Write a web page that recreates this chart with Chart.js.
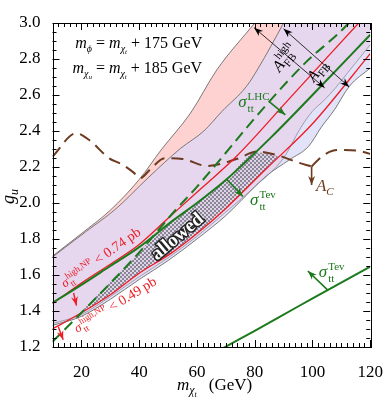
<!DOCTYPE html>
<html>
<head>
<meta charset="utf-8">
<script src="https://cdn.jsdelivr.net/npm/chart.js@4.4.0/dist/chart.umd.min.js"></script>
<style>
  html, body { margin: 0; padding: 0; background: #fff; }
  canvas { display: block; }
</style>
</head>
<body>
<canvas id="c" width="390" height="400"></canvas>
<script>
// axis ranges and tick labels
var xMin = 10, xMax = 120, yMin = 1.2, yMax = 3.0;
var xTickVals = [20, 40, 60, 80, 100, 120];
var yTickVals = [1.2, 1.4, 1.6, 1.8, 2.0, 2.2, 2.4, 2.6, 2.8, 3.0];

// A_FB^high band (pink), outer edge
var afbHighTopX = [10, 20, 30, 40, 47.6, 57.8, 66.9, 80, 90, 100];
var afbHighTopY = [1.705, 1.83, 1.96, 2.13, 2.295, 2.50, 2.74, 3.0, 3.2, 3.45];
// A_FB band upper edge (start of overlap, lavender)
var afbTopX = [10, 21.4, 31.9, 43.1, 54.3, 62.4, 68.6, 77.1, 81.2, 90, 100, 120];
var afbTopY = [1.70, 1.839, 1.967, 2.14, 2.303, 2.40, 2.508, 2.647, 2.748, 3.0, 3.3, 3.8];
// A_FB^high band lower edge (end of overlap)
var afbHighLowX = [10, 20, 30, 40, 50, 60, 70, 80, 90, 96, 100, 104, 108, 113, 120];
var afbHighLowY = [1.33, 1.38, 1.48, 1.59, 1.695, 1.815, 1.95, 2.09, 2.25, 2.42, 2.51, 2.57, 2.64, 2.74, 2.88];
// A_FB band lower edge (light blue)
var afbLowX = [10, 20, 30, 40, 50, 60, 70, 84, 92, 98.6, 103, 107.6, 112.7, 120];
var afbLowY = [1.32, 1.37, 1.465, 1.575, 1.68, 1.80, 1.93, 2.15, 2.24, 2.314, 2.42, 2.518, 2.647, 2.75];

// sigma_tt Tevatron bounds (green solid)
var tevUpX = [10, 20, 30, 40, 52, 60, 70.3, 86, 100, 120];
var tevUpY = [1.445, 1.545, 1.65, 1.755, 1.906, 2.0, 2.132, 2.37, 2.6, 2.935];
var tevLowX = [69, 80, 95, 105.4, 120];
var tevLowY = [1.193, 1.29, 1.425, 1.517, 1.647];
// sigma_tt LHC bound (green dashed)
var lhcX = [10, 20, 40, 52, 60, 84, 97.4, 112, 114];
var lhcY = [1.229, 1.39, 1.725, 1.95, 2.09, 2.545, 2.777, 2.99, 3.03];
// sigma_tt high NP bounds (red)
var np074X = [10, 20, 30, 40, 50, 60, 73.7, 92, 116, 120];
var np074Y = [1.44, 1.555, 1.66, 1.77, 1.915, 2.06, 2.26, 2.58, 3.0, 3.07];
var np049X = [10, 20, 30, 40, 51, 60, 70, 84, 100, 120];
var np049Y = [1.30, 1.39, 1.49, 1.61, 1.72, 1.83, 1.97, 2.19, 2.44, 2.83];
// A_C bound (brown dashed), split at the cusp
var acLeftX = [10, 18.2, 22.7, 29.5, 34, 38, 40.3, 44, 48.8, 55, 63.5, 73.7, 81, 88, 95, 99.7];
var acLeftY = [2.258, 2.388, 2.35, 2.25, 2.215, 2.17, 2.138, 2.19, 2.249, 2.245, 2.206, 2.244, 2.286, 2.265, 2.225, 2.203];
var acRightX = [99.7, 103, 107, 111, 116, 120];
var acRightY = [2.203, 2.255, 2.29, 2.295, 2.29, 2.273];
// upper edge of the allowed (hatched) region; lower edge is the 0.49 pb line
var allowedTopX = [19.5, 30, 40, 44.9, 52, 60, 70.3, 80.5, 84, 88];
var allowedTopY = [1.388, 1.565, 1.725, 1.815, 1.906, 2.0, 2.132, 2.28, 2.275, 2.26];

var F = '"Liberation Serif", "DejaVu Serif", serif';
var GREEN = '#1c7a1c', RED = '#ee1c24', BROWN = '#6b3a1f';

function pts(xs, ys) {
    return xs.map(function (x, i) { return { x: x, y: ys[i] }; });
}
function curve(xs, ys, opts) {
    return Object.assign({
        data: pts(xs, ys),
        pointRadius: 0,
        borderWidth: 0,
        borderColor: 'transparent',
        fill: false,
        cubicInterpolationMode: 'monotone',
        clip: 0
    }, opts);
}

// checkered pattern for the allowed region
var canvas = document.getElementById('c');
var pc = document.createElement('canvas');
pc.width = 4; pc.height = 4;
var pg = pc.getContext('2d');
pg.fillStyle = '#ddd5e3'; pg.fillRect(0, 0, 4, 4);
pg.fillStyle = '#8c8498'; pg.fillRect(0, 0, 2, 2); pg.fillRect(2, 2, 2, 2);
var hatch = canvas.getContext('2d').createPattern(pc, 'repeat');

// ---------- text helpers
function txt(ctx, s, x, y, font, color) {
    ctx.font = font;
    ctx.fillStyle = color;
    ctx.fillText(s, x, y);
    return x + ctx.measureText(s).width;
}
function sigma(ctx, x, y, sup, size, color) {
    var x1 = txt(ctx, 'σ', x, y, 'italic ' + size + 'px ' + F, color);
    var s2 = Math.round(size * 0.66);
    var xa = txt(ctx, sup, x1 + 1, y - size * 0.42, s2 + 'px ' + F, color);
    var xb = txt(ctx, 'tt', x1 + 1, y + size * 0.28, s2 + 'px ' + F, color);
    return Math.max(xa, xb);
}
function arrow(ctx, p1, p2, color, lw, head, both) {
    var a = Math.atan2(p2[1] - p1[1], p2[0] - p1[0]);
    ctx.save();
    ctx.strokeStyle = color; ctx.fillStyle = color; ctx.lineWidth = lw;
    ctx.beginPath(); ctx.moveTo(p1[0], p1[1]); ctx.lineTo(p2[0], p2[1]); ctx.stroke();
    function tip(p, ang) {
        var c = Math.cos(ang), s = Math.sin(ang), w = head * 0.38;
        ctx.beginPath();
        ctx.moveTo(p[0], p[1]);
        ctx.lineTo(p[0] - head * c + w * s, p[1] - head * s - w * c);
        ctx.lineTo(p[0] - head * 0.7 * c, p[1] - head * 0.7 * s);
        ctx.lineTo(p[0] - head * c - w * s, p[1] - head * s + w * c);
        ctx.closePath(); ctx.fill();
    }
    tip(p2, a);
    if (both) tip(p1, a + Math.PI);
    ctx.restore();
}
function rot(ctx, p, deg, fn) {
    ctx.save();
    ctx.translate(p[0], p[1]);
    ctx.rotate(deg * Math.PI / 180);
    fn();
    ctx.restore();
}

// ---------- frame with inward ticks on all sides
function drawFrame(chart) {
    var ctx = chart.ctx, a = chart.chartArea, sx = chart.scales.x, sy = chart.scales.y;
    ctx.save();
    ctx.strokeStyle = '#000';
    ctx.lineWidth = 1;
    ctx.beginPath();
    for (var v = xMin; v <= xMax + 0.001; v += 2) {
        var px = Math.round(sx.getPixelForValue(v)) + 0.5;
        var len = (Math.abs(v % 20) < 0.01) ? 7 : 4;
        ctx.moveTo(px, a.bottom); ctx.lineTo(px, a.bottom - len);
        ctx.moveTo(px, a.top); ctx.lineTo(px, a.top + len);
    }
    for (var k = 0; k <= 36; k++) {
        var yv = yMin + k * 0.05;
        var py = Math.round(sy.getPixelForValue(yv)) + 0.5;
        var ylen = (k % 4 === 0) ? 7 : 4;
        ctx.moveTo(a.left, py); ctx.lineTo(a.left + ylen, py);
        ctx.moveTo(a.right, py); ctx.lineTo(a.right - ylen, py);
    }
    ctx.stroke();
    ctx.strokeRect(Math.round(a.left) + 0.5, Math.round(a.top) + 0.5,
        Math.round(a.right - a.left), Math.round(a.bottom - a.top));
    ctx.restore();
}

var annotations = {
    id: 'annotations',
    afterDraw: function (chart) {
        var ctx = chart.ctx;
        var P = function (x, y) { return [chart.scales.x.getPixelForValue(x), chart.scales.y.getPixelForValue(y)]; };
        drawFrame(chart);

        // mass relations
        function massLine(label, sub2, num, p) {
            var segs = [
                ['m', 'italic 16px ' + F, 0],
                [label, 'italic 10px ' + F, 4],
                [sub2, 'italic 7px ' + F, 6],
                [' = ', '16px ' + F, 0],
                ['m', 'italic 16px ' + F, 0],
                ['χ', 'italic 10px ' + F, 4],
                ['t', 'italic 7px ' + F, 6],
                [' + ' + num + ' GeV', '16px ' + F, 0]
            ];
            var x = p[0];
            segs.forEach(function (s) { x = txt(ctx, s[0], x, p[1] + s[2], s[1], '#000'); });
        }
        massLine('ϕ', '', '175', P(17.9, 2.863));
        massLine('χ', 'u', '185', P(16.9, 2.724));

        // axis titles
        var xt = 177, yt = 390;
        xt = txt(ctx, 'm', xt, yt, 'italic 17px ' + F, '#000');
        xt = txt(ctx, 'χ', xt, yt + 4, 'italic 12px ' + F, '#000');
        xt = txt(ctx, 't', xt, yt + 7, 'italic 8px ' + F, '#000');
        txt(ctx, '(GeV)', xt + 12, yt, '17px ' + F, '#000');
        rot(ctx, [14, 204], -90, function () {
            var gx = txt(ctx, 'g', 0, 0, 'italic 18px ' + F, '#000');
            txt(ctx, 'u', gx, 4, 'italic 12px ' + F, '#000');
        });

        // A_FB arrows and labels
        arrow(ctx, P(79.8, 2.974), P(104.2, 2.64), '#000', 0.8, 9, true);
        arrow(ctx, P(90, 2.968), P(112.7, 2.645), '#000', 0.8, 9, true);
        rot(ctx, P(88.6, 2.724), -52, function () {
            var ax = txt(ctx, 'A', 0, 0, 'italic 16px ' + F, '#000');
            txt(ctx, 'high', ax, -8, '11px ' + F, '#000');
            txt(ctx, 'FB', ax, 4, '11px ' + F, '#000');
        });
        rot(ctx, P(100.5, 2.668), -52, function () {
            var ax = txt(ctx, 'A', 0, 0, 'italic 16px ' + F, '#000');
            txt(ctx, 'FB', ax, 4, '11px ' + F, '#000');
        });

        // green sigma_tt labels
        arrow(ctx, P(84.9, 2.564), P(90.6, 2.49), GREEN, 1.6, 9, false);
        sigma(ctx, P(74.3, 2.534)[0], P(74.3, 2.534)[1], 'LHC', 17, GREEN);
        arrow(ctx, P(70.3, 2.132), P(75.9, 2.036), GREEN, 1.6, 9, false);
        sigma(ctx, P(78.4, 1.99)[0], P(78.4, 1.99)[1], 'Tev', 17, GREEN);
        arrow(ctx, P(105.2, 1.517), P(98.4, 1.622), GREEN, 1.6, 9, false);
        sigma(ctx, P(102.2, 1.59)[0], P(102.2, 1.59)[1], 'Tev', 17, GREEN);

        // A_C
        arrow(ctx, P(99.7, 2.203), P(99.7, 2.10), BROWN, 1.6, 9, false);
        var acx = txt(ctx, 'A', P(101.2, 2.067)[0], P(101.2, 2.067)[1], 'italic 17px ' + F, BROWN);
        txt(ctx, 'C', acx, P(101.2, 2.067)[1] + 4, 'italic 11px ' + F, BROWN);

        // red high NP labels
        arrow(ctx, P(17.3, 1.50), P(18.3, 1.43), RED, 1.4, 9, false);
        arrow(ctx, P(12, 1.313), P(13.7, 1.24), RED, 1.4, 9, false);
        rot(ctx, P(14.2, 1.528), -35, function () {
            var e = sigma(ctx, 0, 0, 'high,NP', 13, RED);
            txt(ctx, ' < 0.74 pb', e, 0, '14px ' + F, RED);
        });
        rot(ctx, P(18.6, 1.278), -31.5, function () {
            var e = sigma(ctx, 0, 0, 'high,NP', 13, RED);
            txt(ctx, ' < 0.49 pb', e, 0, '14px ' + F, RED);
        });

        // allowed
        rot(ctx, P(53.3, 1.811), -40, function () {
            ctx.font = 'bold 19px ' + F;
            ctx.textAlign = 'center';
            ctx.textBaseline = 'middle';
            ctx.lineWidth = 3;
            ctx.strokeStyle = '#222';
            ctx.strokeText('allowed', 0, 0);
            ctx.fillStyle = '#fff';
            ctx.fillText('allowed', 0, 0);
        });
    }
};

var bandEdge = '#5a5a5a';

new Chart(canvas, {
    type: 'line',
    data: {
        datasets: [
            curve(allowedTopX, allowedTopY, { fill: { target: 5 }, backgroundColor: hatch }),
            curve(tevUpX, tevUpY, { borderColor: GREEN, borderWidth: 2 }),
            curve(tevLowX, tevLowY, { borderColor: GREEN, borderWidth: 2 }),
            curve(lhcX, lhcY, { borderColor: GREEN, borderWidth: 2, borderDash: [11, 6] }),
            curve(np074X, np074Y, { borderColor: RED, borderWidth: 1.3 }),
            curve(np049X, np049Y, { borderColor: RED, borderWidth: 1.3 }),
            curve(acLeftX, acLeftY, { borderColor: BROWN, borderWidth: 2, borderDash: [12, 7] }),
            curve(acRightX, acRightY, { borderColor: BROWN, borderWidth: 2, borderDash: [12, 7] }),
            curve(afbHighTopX, afbHighTopY, { borderColor: bandEdge, borderWidth: 0.8, fill: '+1', backgroundColor: '#ffd2d2' }),
            curve(afbTopX, afbTopY, { borderColor: bandEdge, borderWidth: 0.8, fill: '+1', backgroundColor: '#e6d6ee' }),
            curve(afbHighLowX, afbHighLowY, { borderColor: '#8a8a9a', borderWidth: 0.8, fill: '+1', backgroundColor: '#e2e2f8' }),
            curve(afbLowX, afbLowY, { borderColor: bandEdge, borderWidth: 0.8 })
        ]
    },
    options: {
        responsive: false,
        animation: false,
        devicePixelRatio: 1,
        layout: { padding: { top: 23, right: 13.5, left: 0, bottom: 0 } },
        plugins: {
            legend: { display: false },
            tooltip: { enabled: false },
            filler: { drawTime: 'beforeDatasetsDraw' }
        },
        scales: {
            x: {
                type: 'linear', min: xMin, max: xMax,
                grid: { display: false }, border: { display: false },
                afterBuildTicks: function (s) { s.ticks = xTickVals.map(function (v) { return { value: v }; }); },
                afterFit: function (s) { s.height = 53; },
                ticks: { color: '#000', padding: 7, maxRotation: 0, font: { family: F, size: 17 } }
            },
            y: {
                type: 'linear', min: yMin, max: yMax,
                grid: { display: false }, border: { display: false },
                afterBuildTicks: function (s) { s.ticks = yTickVals.map(function (v) { return { value: v }; }); },
                afterFit: function (s) { s.width = 52.5; },
                ticks: {
                    color: '#000', padding: 4, font: { family: F, size: 17 },
                    callback: function (v) { return Number(v).toFixed(1); }
                }
            }
        }
    },
    plugins: [annotations]
});
</script>
</body>
</html>
